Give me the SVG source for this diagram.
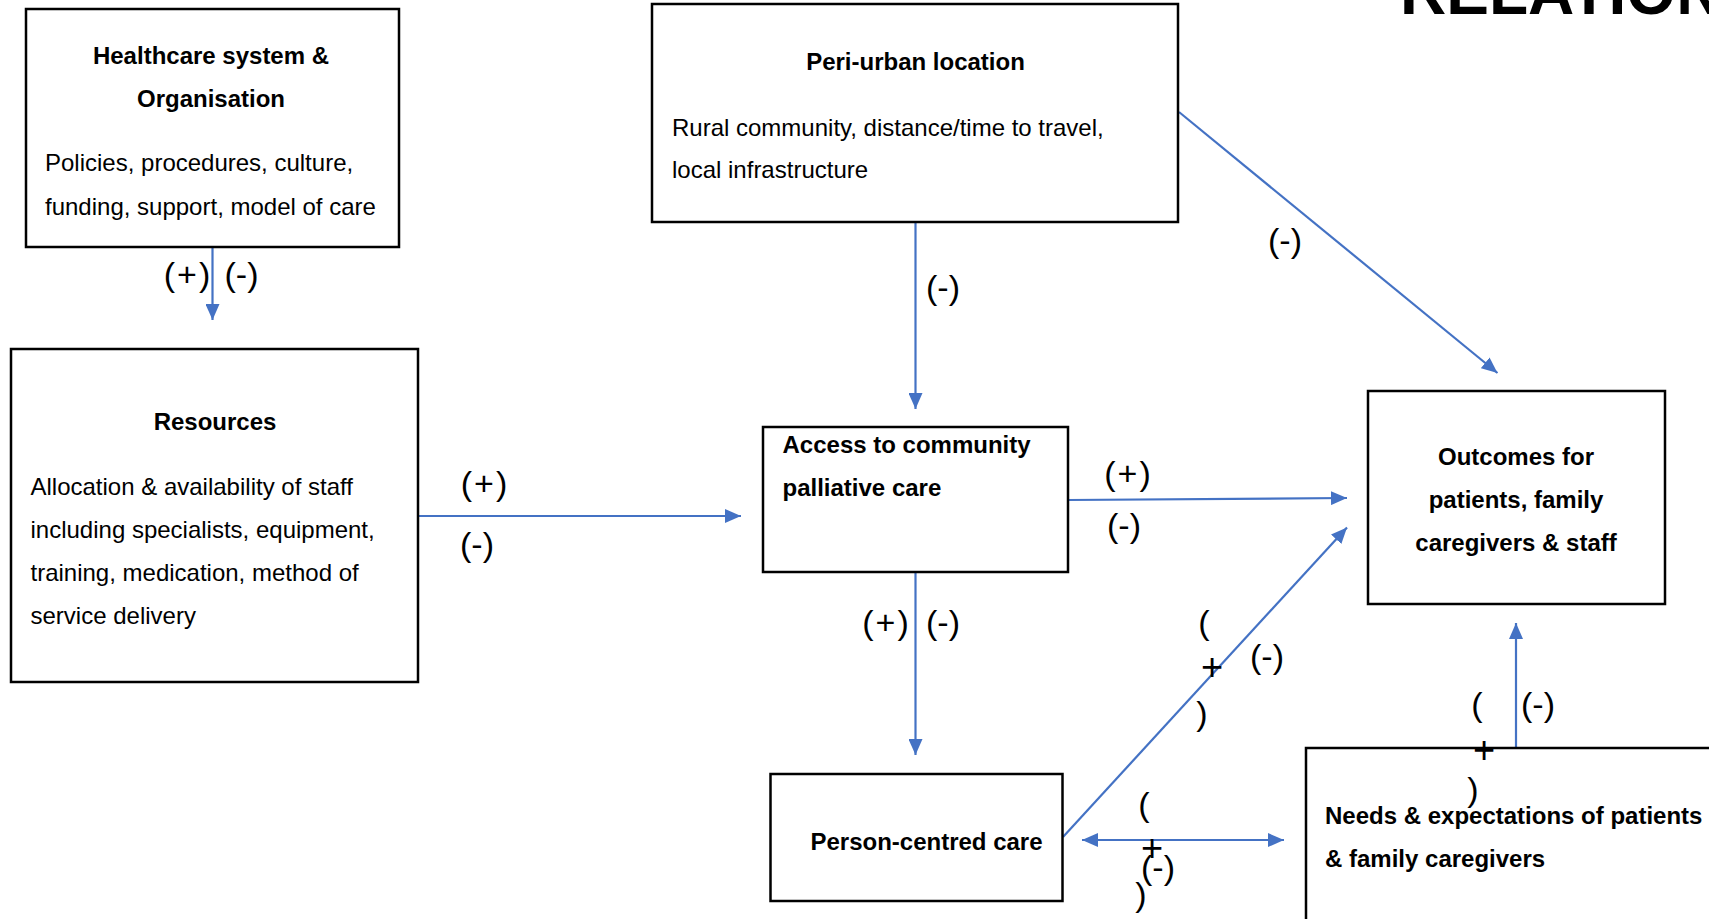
<svg xmlns="http://www.w3.org/2000/svg" width="1709" height="919" viewBox="0 0 1709 919">
<style>
.box{fill:#fff;stroke:#000;stroke-width:2.5}
.t{font-family:"Liberation Sans",Arial,sans-serif;font-size:24px;fill:#000}
.b{font-weight:bold}
.m{text-anchor:middle}
.lbl{font-family:"Liberation Sans",Arial,sans-serif;font-size:34px;fill:#000;text-anchor:middle}
.pl{font-size:38px}
.pp{letter-spacing:2px}
.c{stroke:#4472C4;stroke-width:2.2;fill:none;marker-end:url(#ah)}
.title{font-family:"Liberation Sans",Arial,sans-serif;font-size:64px;font-weight:bold;fill:#000}
</style>
<defs>
<marker id="ah" viewBox="0 0 16 14" refX="16" refY="7" markerWidth="16" markerHeight="14" markerUnits="userSpaceOnUse" orient="auto-start-reverse">
<path d="M0,0 L16,7 L0,14 z" fill="#4472C4"/>
</marker>
</defs>
<rect width="1709" height="919" fill="#fff"/>
<text class="title" x="1400" y="14">RELATION</text>

<g id="connectors">
<path class="c" d="M212.5,247 L212.5,320"/>
<path class="c" d="M418,516 L741,516"/>
<path class="c" d="M915.5,222 L915.5,409"/>
<path class="c" d="M1179,112 L1497.5,373"/>
<path class="c" d="M1068,500 L1347,498"/>
<path class="c" d="M915.5,572 L915.5,755"/>
<path class="c" d="M1063,837 L1347,527.5"/>
<path class="c" d="M1516,748 L1516,623"/>
<path class="c" d="M1082,840 L1284,840" marker-start="url(#ah)"/>
</g>

<g id="healthcare">
<rect class="box" x="26" y="9" width="373" height="238"/>
<text class="t b m" x="211" y="64">Healthcare system &amp;</text>
<text class="t b m" x="211" y="106.5">Organisation</text>
<text class="t" x="45" y="171">Policies, procedures, culture,</text>
<text class="t" x="45" y="214.5">funding, support, model of care</text>
</g>

<g id="periurban">
<rect class="box" x="652" y="4" width="526" height="218"/>
<text class="t b m" x="915.5" y="70">Peri-urban location</text>
<text class="t" x="672" y="136">Rural community, distance/time to travel,</text>
<text class="t" x="672" y="178">local infrastructure</text>
</g>

<g id="resources">
<rect class="box" x="11" y="349" width="407" height="333"/>
<text class="t b m" x="215" y="430">Resources</text>
<text class="t" x="30.5" y="494.5">Allocation &amp; availability of staff</text>
<text class="t" x="30.5" y="538">including specialists, equipment,</text>
<text class="t" x="30.5" y="580.5">training, medication, method of</text>
<text class="t" x="30.5" y="624">service delivery</text>
</g>

<g id="access">
<rect class="box" x="763" y="427" width="305" height="145"/>
<text class="t b" x="782.5" y="453">Access to community</text>
<text class="t b" x="782.5" y="495.5">palliative care</text>
</g>

<g id="outcomes">
<rect class="box" x="1368" y="391" width="297" height="213"/>
<text class="t b m" x="1516" y="465">Outcomes for</text>
<text class="t b m" x="1516" y="508">patients, family</text>
<text class="t b m" x="1516" y="550.5">caregivers &amp; staff</text>
</g>

<g id="person">
<rect class="box" x="770.5" y="774" width="292" height="127"/>
<text class="t b m" x="926.5" y="850">Person-centred care</text>
</g>

<g id="needs">
<rect class="box" x="1306" y="748" width="460" height="220"/>
<text class="t b" x="1325" y="824">Needs &amp; expectations of patients</text>
<text class="t b" x="1325" y="867">&amp; family caregivers</text>
</g>

<g id="connector-labels">
<text class="lbl pp" x="188" y="286">(+)</text>
<text class="lbl" x="241.5" y="286">(-)</text>
<text class="lbl pp" x="485" y="495">(+)</text>
<text class="lbl" x="477" y="556">(-)</text>
<text class="lbl" x="943" y="299">(-)</text>
<text class="lbl" x="1285" y="252">(-)</text>
<text class="lbl pp" x="1128.5" y="485">(+)</text>
<text class="lbl" x="1124" y="537">(-)</text>
<text class="lbl pp" x="886.5" y="634">(+)</text>
<text class="lbl" x="943" y="634">(-)</text>
<text class="lbl" x="1204" y="634">(</text>
<text class="lbl pl" x="1212" y="680">+</text>
<text class="lbl" x="1202" y="725">)</text>
<text class="lbl" x="1267" y="668">(-)</text>
<text class="lbl" x="1477" y="716">(</text>
<text class="lbl pl" x="1484" y="763">+</text>
<text class="lbl" x="1473" y="801">)</text>
<text class="lbl" x="1538" y="716">(-)</text>
<text class="lbl" x="1144" y="816">(</text>
<text class="lbl pl" x="1152" y="861">+</text>
<text class="lbl" x="1158" y="879">(-)</text>
<text class="lbl" x="1141" y="906">)</text>
</g>
</svg>
